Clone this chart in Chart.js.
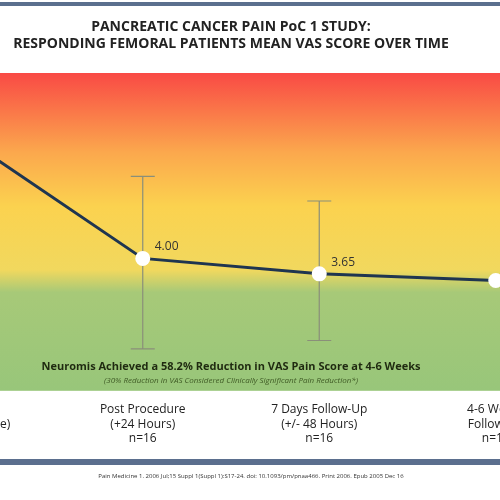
<!DOCTYPE html>
<html>
<head>
<meta charset="utf-8">
<script src="https://cdn.jsdelivr.net/npm/chart.js@4"></script>
<style>
  body { margin: 0; background: #fff; overflow: hidden; }
  #wrap { position: absolute; left: -131px; top: 0; width: 724px; height: 500px; }
</style>
</head>
<body>
<div id="wrap"><canvas id="vasChart"></canvas></div>
<script>
// Chart data
const timepoints = [
    ['Baseline', '(Pre-Procedure)', 'n=16'],
    ['Post Procedure', '(+24 Hours)', 'n=16'],
    ['7 Days Follow-Up', '(+/- 48 Hours)', 'n=16'],
    ['4-6 Weeks', 'Follow-Up', 'n=16']
];
const meanVas = [6.71, 4.00, 3.65, 3.50];
const errLow = [null, 1.95, 2.14, null];
const errHigh = [null, 5.86, 5.30, null];

// Gradient background, band text, error bars and footnote
const decorations = {
    id: 'decorations',
    beforeDatasetsDraw(chart) {
        const c = chart.ctx, a = chart.chartArea;
        const g = c.createLinearGradient(0, a.top, 0, a.bottom);
        g.addColorStop(0, '#f94a45');
        g.addColorStop(0.25, '#fba84d');
        g.addColorStop(0.42, '#fbd24f');
        g.addColorStop(0.62, '#f1d85e');
        g.addColorStop(0.69, '#a7c978');
        g.addColorStop(1, '#98c67a');
        c.save();
        c.fillStyle = g;
        c.fillRect(0, a.top, chart.width, a.bottom - a.top);
        // top and bottom rules
        c.fillStyle = '#5b6f8e';
        c.fillRect(0, 2, chart.width, 4);
        c.fillRect(0, 459, chart.width, 6);
        // error bars
        const x = chart.scales.x, y = chart.scales.y;
        c.strokeStyle = '#8a8f7a';
        c.lineWidth = 1.2;
        errLow.forEach((lo, i) => {
            if (lo === null) return;
            const px = x.getPixelForValue(i);
            const y1 = y.getPixelForValue(errHigh[i]), y2 = y.getPixelForValue(lo);
            c.beginPath();
            c.moveTo(px, y1); c.lineTo(px, y2);
            c.moveTo(px - 12, y1); c.lineTo(px + 12, y1);
            c.moveTo(px - 12, y2); c.lineTo(px + 12, y2);
            c.stroke();
        });
        // band text
        c.textAlign = 'center';
        c.fillStyle = '#1f2a10';
        c.font = 'bold 11px "Open Sans"';
        c.fillText('Neuromis Achieved a 58.2% Reduction in VAS Pain Score at 4-6 Weeks', 362, 370);
        c.fillStyle = '#3f5a25';
        c.font = 'italic 8px "Open Sans"';
        c.fillText('(30% Reduction in VAS Considered Clinically Significant Pain Reduction*)', 362, 383);
        c.fillStyle = '#333';
        c.font = '6px "Open Sans"';
        c.fillText('Pain Medicine 1. 2006 Jul;15 Suppl 1(Suppl 1):S17-24. doi: 10.1093/pm/pnaa466. Print 2006. Epub 2005 Dec 16', 382, 478);
        c.restore();
    },
    afterDatasetsDraw(chart) {
        const c = chart.ctx, meta = chart.getDatasetMeta(0);
        c.save();
        c.fillStyle = '#333';
        c.font = '12px "Open Sans"';
        meta.data.forEach((pt, i) => {
            c.textAlign = i === 0 ? 'right' : 'left';
            const dx = i === 0 ? 24 : 12;
            c.fillText(meanVas[i].toFixed(2), pt.x + dx, i === 0 ? pt.y + 4 : pt.y - 8);
        });
        c.restore();
    }
};

new Chart(document.getElementById('vasChart'), {
    type: 'line',
    data: {
        labels: timepoints,
        datasets: [{
            data: meanVas,
            borderColor: '#1f3550',
            borderWidth: 3,
            pointBackgroundColor: '#fff',
            pointBorderColor: '#fff',
            pointRadius: [0, 6, 6, 6],
            tension: 0
        }]
    },
    options: {
        responsive: true,
        maintainAspectRatio: false,
        animation: false,
        layout: { padding: { top: 0, bottom: 50 } },
        plugins: {
            legend: { display: false },
            tooltip: { enabled: false },
            title: {
                display: true,
                text: ['PANCREATIC CANCER PAIN PoC 1 STUDY:', 'RESPONDING FEMORAL PATIENTS MEAN VAS SCORE OVER TIME'],
                color: '#222',
                font: { family: 'Open Sans', size: 14, weight: 'bold', lineHeight: 1.25 },
                padding: { top: 18, bottom: 20 }
            }
        },
        scales: {
            x: {
                offset: true,
                grid: { display: false },
                border: { display: false },
                ticks: { color: '#222', font: { family: 'Open Sans', size: 12 }, padding: 4, maxRotation: 0, autoSkip: false }
            },
            y: {
                display: false,
                min: 1,
                max: 8.2
            }
        }
    },
    plugins: [decorations]
});
</script>
</body>
</html>
